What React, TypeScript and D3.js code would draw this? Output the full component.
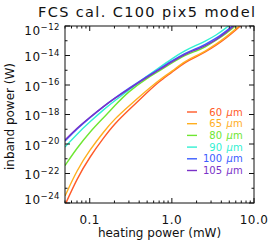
import React from "react";
import * as d3 from "d3";

// heating power (mW)
const heatingPower = [0.05, 0.07, 0.1, 0.15, 0.2, 0.3, 0.5, 0.7, 1.0, 1.45, 2.0, 2.5, 3.5, 4.5, 6.0, 8.0];

// log10 of inband power (W) per wavelength
const p60 = [-24.14, -22.34, -20.88, -19.53, -18.64, -17.69, -16.51, -15.76, -15.15, -14.44, -14.07, -13.8, -13.29, -12.85, -12.27, -11.66];
const p65 = [-23.53, -21.76, -20.41, -19.12, -18.31, -17.42, -16.34, -15.66, -15.08, -14.37, -14.0, -13.74, -13.22, -12.78, -12.2, -11.59];
const p80 = [-21.46, -20.27, -19.19, -18.17, -17.42, -16.41, -15.53, -15.05, -14.51, -13.97, -13.69, -13.46, -12.95, -12.54, -12.0, -11.39];
const p90 = [-20.2, -19.32, -18.51, -17.63, -17.08, -16.34, -15.39, -14.82, -14.22, -13.66, -13.3, -13.05, -12.61, -12.17, -11.59, -10.92];
const p100 = [-19.8, -18.97, -18.22, -17.42, -16.9, -16.22, -15.4, -14.92, -14.36, -13.84, -13.52, -13.27, -12.83, -12.38, -11.82, -11.18];
const p105 = [-19.73, -18.92, -18.2, -17.42, -16.92, -16.27, -15.46, -14.98, -14.42, -13.9, -13.6, -13.36, -12.92, -12.47, -11.9, -11.25];

const seriesLabels = ["60", "65", "80", "90", "100", "105"];
const seriesValues = [p60, p65, p80, p90, p100, p105];
const seriesColors = ["#ff5a28", "#ffae1e", "#6ee632", "#32f0d2", "#3a5cff", "#7a32c8"];

const yTickExps = [-12, -14, -16, -18, -20, -22, -24];
const xTickLabels = ["0.1", "1.0", "10.0"];
const xTickValues = [0.1, 1, 10];

const W = 273;
const H = 247;
const X0 = 65, X1 = 254, Y0 = 26, Y1 = 203;
const FONT = "'DejaVu Sans', sans-serif";

export default function App() {
  const x = d3.scaleLog().domain([0.05, 10]).range([X0, X1]);
  const y = d3.scaleLog().domain([1e-24, 1e-12]).range([Y1, Y0]);

  const line = d3
    .line<[number, number]>()
    .x((d) => x(d[0]))
    .y((d) => y(d[1]))
    .curve(d3.curveBasis);

  // minor ticks
  const xMinor: number[] = [];
  [0.01, 0.1, 1].forEach((dec) => {
    for (let k = 2; k <= 9; k++) {
      const v = dec * k;
      if (v > 0.05 - 1e-9 && v < 10) xMinor.push(v);
    }
  });
  const yMinor = [-13, -15, -17, -19, -21, -23];

  return (
    <svg
      width={W}
      height={H}
      style={{ position: "absolute", left: 0, top: 0, background: "#fff" }}
      fontFamily={FONT}
    >
      <defs>
        <clipPath id="plotclip">
          <rect x={X0} y={Y0} width={X1 - X0} height={Y1 - Y0} />
        </clipPath>
      </defs>

      <text x={38} y={17.3} fontSize={14.5} textLength={217} lengthAdjust="spacing" fill="#111">
        FCS cal. C100 pix5 model
      </text>

      <g clipPath="url(#plotclip)">
        {seriesValues.map((vals, i) => (
          <path
            key={i}
            d={line(heatingPower.map((h, j) => [h, Math.pow(10, vals[j])] as [number, number])) || ""}
            fill="none"
            stroke={seriesColors[i]}
            strokeWidth={1.4}
          />
        ))}
      </g>

      {/* frame */}
      <rect x={X0} y={Y0} width={X1 - X0} height={Y1 - Y0} fill="none" stroke="#111" strokeWidth={1} />

      {/* x ticks */}
      {xTickValues.map((v, i) => (
        <g key={"xt" + i}>
          <line x1={x(v)} x2={x(v)} y1={Y1} y2={Y1 - 5} stroke="#111" />
          <line x1={x(v)} x2={x(v)} y1={Y0} y2={Y0 + 5} stroke="#111" />
          <text x={x(v)} y={224} textAnchor="middle" fontSize={12} fill="#111" letterSpacing={0.5}>
            {xTickLabels[i]}
          </text>
        </g>
      ))}
      {xMinor.map((v, i) => (
        <g key={"xm" + i}>
          <line x1={x(v)} x2={x(v)} y1={Y1} y2={Y1 - 2.5} stroke="#111" />
          <line x1={x(v)} x2={x(v)} y1={Y0} y2={Y0 + 2.5} stroke="#111" />
        </g>
      ))}

      {/* y ticks */}
      {yTickExps.map((e, i) => {
        const ty = y(Math.pow(10, e));
        const by = Math.min(Math.max(ty + 5.5, 35), 204);
        return (
          <g key={"yt" + i}>
            <line x1={X0} x2={X0 + 5} y1={ty} y2={ty} stroke="#111" />
            <line x1={X1} x2={X1 - 5} y1={ty} y2={ty} stroke="#111" />
            <text x={60} y={by} textAnchor="end" fontSize={12} fill="#111" letterSpacing={0.5}>
              10
              <tspan dy={-5.5} fontSize={8.5}>
                {"\u2212" + Math.abs(e)}
              </tspan>
            </text>
          </g>
        );
      })}
      {yMinor.map((e, i) => {
        const ty = y(Math.pow(10, e));
        return (
          <g key={"ym" + i}>
            <line x1={X0} x2={X0 + 2.5} y1={ty} y2={ty} stroke="#111" />
            <line x1={X1} x2={X1 - 2.5} y1={ty} y2={ty} stroke="#111" />
          </g>
        );
      })}

      {/* axis titles */}
      <text x={(X0 + X1) / 2} y={237} textAnchor="middle" fontSize={12} fill="#111">
        heating power (mW)
      </text>
      <text
        transform={`translate(13.5, ${(Y0 + Y1) / 2 + 2}) rotate(-90)`}
        textAnchor="middle"
        fontSize={12}
        fill="#111"
      >
        inband power (W)
      </text>

      {/* legend */}
      {seriesLabels.map((lab, i) => {
        const cy = 112 + i * 11.7;
        return (
          <g key={"lg" + i}>
            <line x1={187} x2={197} y1={cy} y2={cy} stroke={seriesColors[i]} strokeWidth={1.4} />
            <text x={222} y={cy + 3.6} textAnchor="end" fontSize={10} fill={seriesColors[i]}>
              {lab}
            </text>
            <text x={226.5} y={cy + 3.6} fontSize={10} fill={seriesColors[i]}>
              <tspan fontStyle="italic">μ</tspan>m
            </text>
          </g>
        );
      })}
    </svg>
  );
}
